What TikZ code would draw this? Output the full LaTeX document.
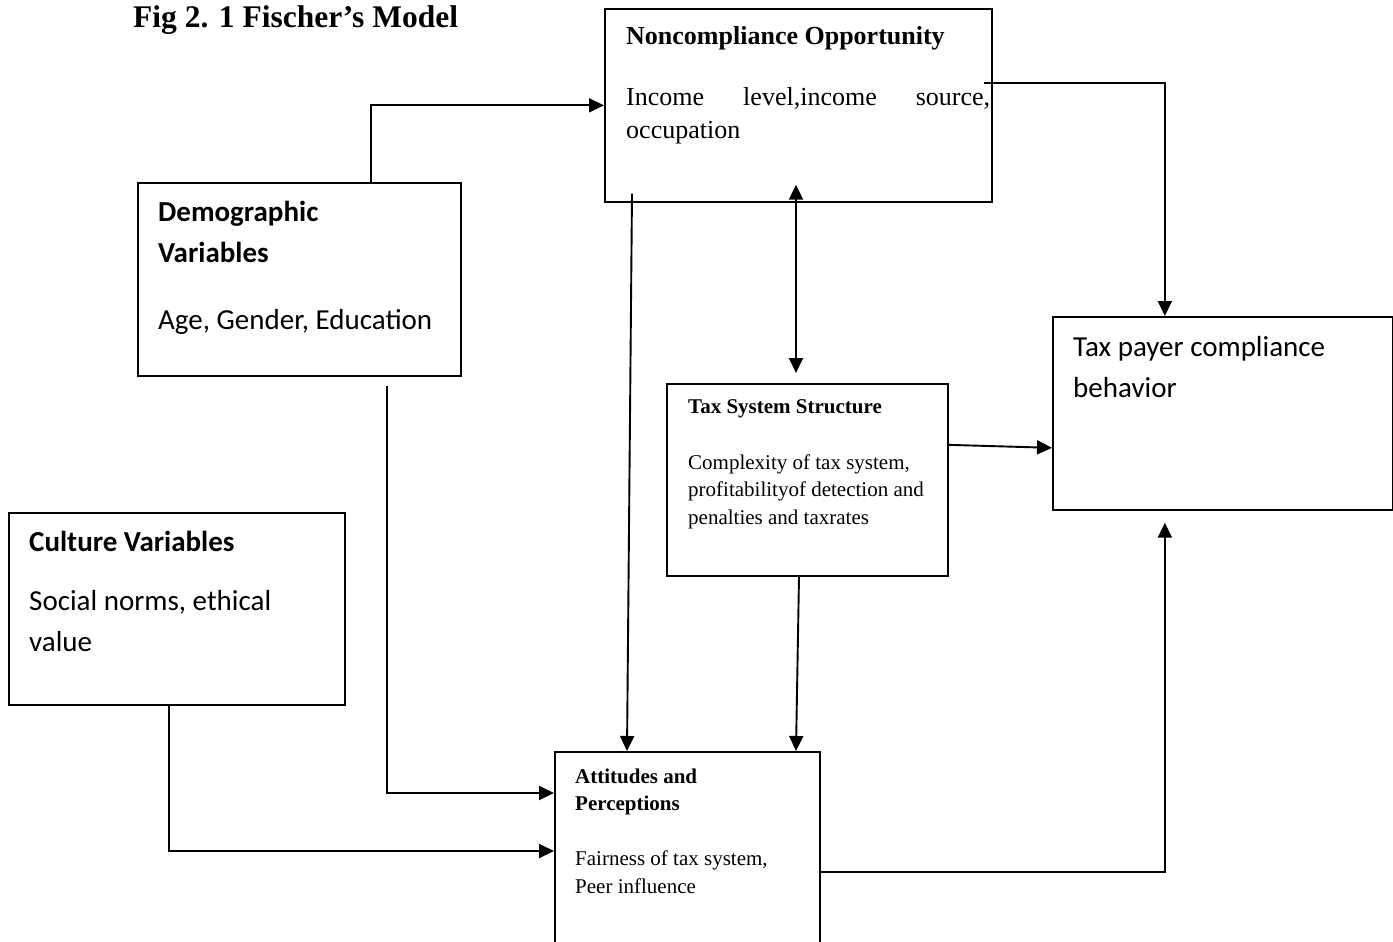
\documentclass[tikz,border=0pt]{standalone}
\usepackage{fontspec}
\setmainfont{Liberation Serif}
\newfontfamily\calibri{Carlito}
\usetikzlibrary{arrows.meta}
\begin{document}
\begin{tikzpicture}[x=1pt, y=-1pt,
  box/.style={draw, line width=1.7pt, anchor=north west, inner sep=0pt},
  txt/.style={anchor=base west, inner sep=0pt, align=left},
  times/.style={font=\fontsize{21}{27.5}\selectfont},
  cal/.style={font=\calibri\fontsize{29}{40.5}\selectfont},
  arr/.style={line width=1.9pt, -{Triangle[length=15pt,width=14pt]}}]
\clip (0,0) rectangle (1393,942);
% title
\node[txt, font=\fontsize{31.5}{36}\selectfont\bfseries] (title) at (133,28) {Fig 2. 1 Fischer’s Model};
% boxes
\node[box, minimum width=387pt, minimum height=193pt] (nco) at (604,8) {};
\node[box, minimum width=323pt, minimum height=193pt] (demo) at (137,182) {};
\node[box, minimum width=340pt, minimum height=193pt] (tpb) at (1052,316) {};
\node[box, minimum width=281pt, minimum height=192pt] (tss) at (666,383) {};
\node[box, minimum width=336pt, minimum height=192pt] (cult) at (8,512) {};
\node[box, minimum width=265pt, minimum height=240pt] (att) at (554,751) {};
% texts (anchored at the last line)
\node[txt, font=\fontsize{26}{33}\selectfont] (ncotxt) at (626,139)
  {\textbf{Noncompliance Opportunity}\\[28pt]\makebox[364pt][s]{Income level,income source,}\\occupation};
\node[txt, cal] (demotxt) at (158,329) {\textbf{Demographic}\\\textbf{Variables}\\[26.5pt]Age, Gender, Education};
\node[txt, cal] (tpbtxt) at (1073,397) {Tax payer compliance\\behavior};
\node[txt, times] (tsstxt) at (688,524)
  {\textbf{Tax System Structure}\\[28.5pt]Complexity of tax system,\\profitabilityof detection and\\penalties and taxrates};
\node[txt, cal] (culttxt) at (29,651) {\textbf{Culture Variables}\\[18.5pt]Social norms, ethical\\value};
\node[txt, times] (atttxt) at (575,893)
  {\textbf{Attitudes and}\\\textbf{Perceptions}\\[27.5pt]Fairness of tax system,\\Peer influence};
% connectors
\draw[arr] ([xshift=71.5pt]demo.north) |- (nco.west);
\draw[arr] ([xshift=-9pt,yshift=-75pt]nco.north east) -| ([xshift=-58pt]tpb.north);
\draw[arr] ([xshift=28pt,yshift=9pt]nco.south west) -- ([xshift=73pt]att.north west);
\draw[line width=1.9pt, {Triangle[length=15pt,width=14pt]}-{Triangle[length=15pt,width=14pt]}]
  ([xshift=192pt,yshift=18pt]nco.south west) -- ([xshift=130pt,yshift=10pt]tss.north west);
\draw[arr] ([yshift=35pt]tss.east) -- ([yshift=-34.5pt]tpb.west);
\draw[arr] ([xshift=133pt]tss.south west) -- ([xshift=242pt]att.north west);
\draw[arr] ([xshift=250pt,yshift=-9pt]demo.south west) |- ([yshift=-42pt]att.north west);
\draw[arr] ([xshift=161pt]cult.south west) |- ([yshift=-100pt]att.north west);
\draw[arr] ([yshift=-121pt]att.north east) -| ([xshift=-58pt,yshift=-12pt]tpb.south);
\end{tikzpicture}
\end{document}
